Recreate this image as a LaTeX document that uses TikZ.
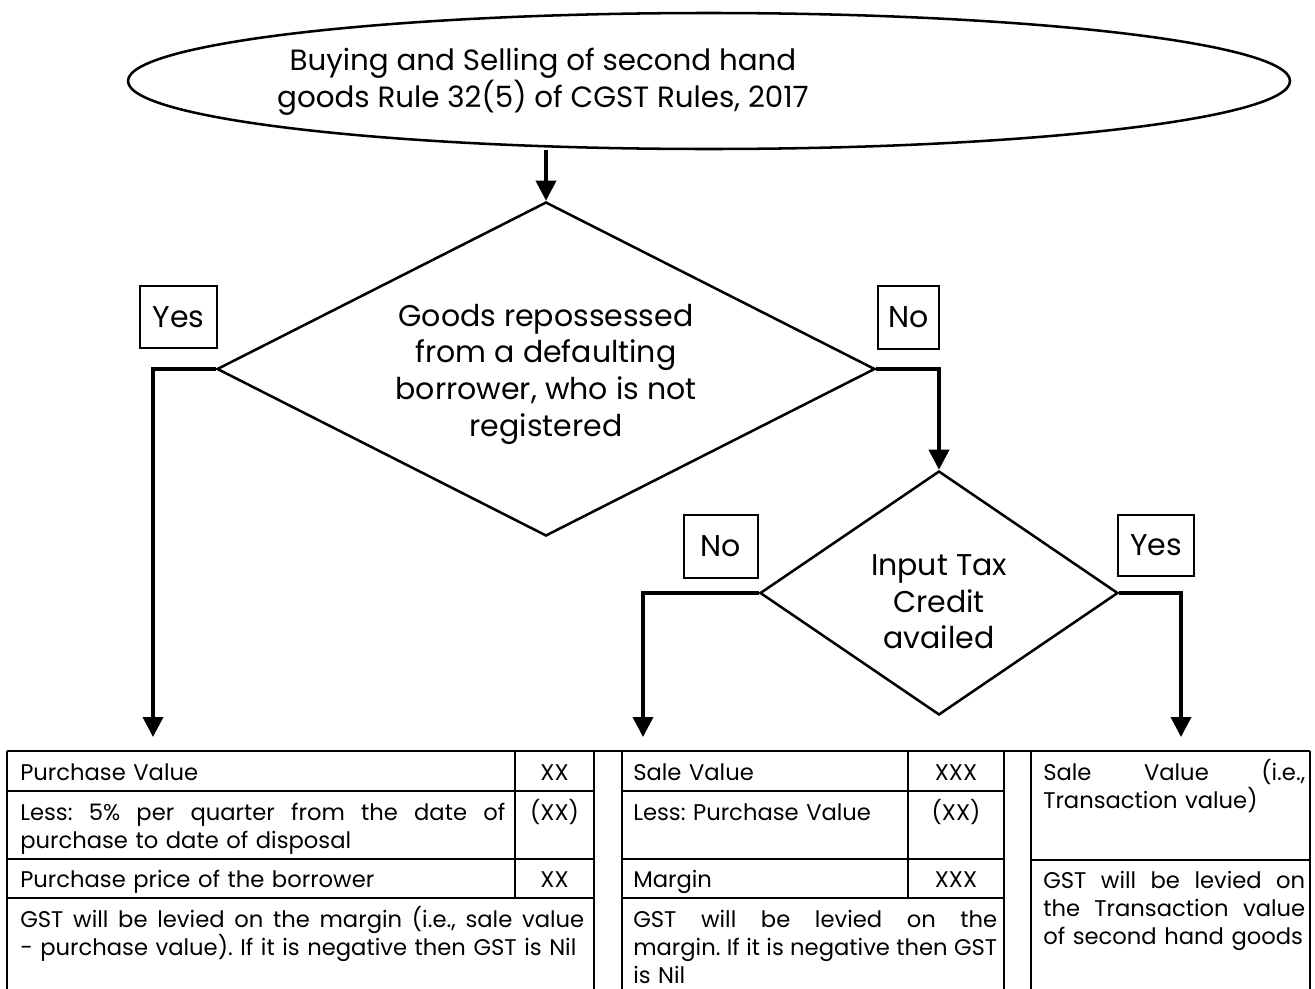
\documentclass[tikz,border=0pt]{standalone}
\usepackage{fontspec}
\setmainfont{Poppins}
\usetikzlibrary{arrows.meta,shapes.geometric,positioning}
\tikzset{
  flowline/.style={-{Triangle[length=15pt,width=15pt]}, line width=2.7pt},
  shapeline/.style={draw, line width=1.9pt},
  rulebox/.style={shapeline, ellipse, inner sep=0pt},
  asktext/.style={font=\fontsize{22.5}{27.5}\selectfont},
  askbox/.style={shapeline, diamond, inner sep=0pt, aspect=1.5},
  tagbox/.style={draw, line width=1.9pt, inner sep=0pt, asktext},
  gridline/.style={line width=1.9pt},
  celltext/.style={anchor=base west, inner sep=0pt, align=left, font=\fontsize{17}{21}\selectfont\frenchspacing},
  numtext/.style={anchor=base, inner sep=0pt, font=\fontsize{17}{21}\selectfont}
}
\newcommand{\spreadline}[1]{\makebox[\hsize][s]{\spaceskip=0pt\xspaceskip=0pt #1}}

\begin{document}
\begin{tikzpicture}[x=0.75pt,y=-0.75pt]
  \useasboundingbox (0,0) rectangle (1315,989);

  % title and questions
  \node[rulebox, minimum width=871.5pt, minimum height=102pt] (rule) at (709,81) {};
  \node[font=\fontsize{22}{27.75}\selectfont, align=center] (ruletext) at (543,82)
    {Buying and Selling of second hand\\goods Rule 32(5) of CGST Rules, 2017};
  \node[askbox, minimum width=493.5pt, minimum height=250.5pt] (repo) at (546,369) {};
  \node[asktext, align=center] (repotext) at (546,374)
    {Goods repossessed\\from a defaulting\\borrower, who is not\\registered};
  \node[askbox, minimum width=268.5pt, minimum height=183pt] (itc) at (939,593) {};
  \node[asktext, align=center] (itctext) at (939,602) {Input Tax\\Credit\\availed};

  % yes / no tags
  \node[tagbox, minimum width=57.75pt, minimum height=46.5pt] (repoyes) at (178.5,317) {Yes};
  \node[tagbox, minimum width=45.75pt, minimum height=47.25pt] (repono) at (908.5,317.5) {No};
  \node[tagbox, minimum width=55.5pt, minimum height=47.25pt] (itcno) at (721,546.5) {No};
  \node[tagbox, minimum width=57pt, minimum height=45.75pt] (itcyes) at (1156,545.5) {Yes};

  % connectors
  \coordinate (endA) at (153,737);
  \coordinate (endB) at (643,737);
  \coordinate (endC) at (1181,737);
  \draw[flowline] (repo.north |- rule.south) -- (repo.north);
  \draw[flowline] (repo.west) -| (endA);
  \draw[flowline] (repo.east) -| (itc.north);
  \draw[flowline] (itc.west) -| (endB);
  \draw[flowline] (itc.east) -| (endC);

  % table grid
  \draw[gridline] (7,751) -- (1310,751);
  \foreach \x in {7,594,622,1004,1031,1310}
    \draw[gridline] (\x,751) -- (\x,995);
  \foreach \y in {791,859,898} {
    \draw[gridline] (7,\y) -- (594,\y);
    \draw[gridline] (622,\y) -- (1004,\y);
  }
  \draw[gridline] (515,751) -- (515,898);
  \draw[gridline] (908,751) -- (908,898);
  \draw[gridline] (1031,860) -- (1310,860);

  % left column
  \node[celltext, text width=363.75pt] (pval) at (20,780) {Purchase Value};
  \node[numtext] (pvalamt) at (554.5,780) {XX};
  \node[celltext, text width=363.75pt] (less) at (20,820)
    {\spreadline{Less: 5\% per quarter from the date of}\\purchase to date of disposal};
  \node[numtext] (lessamt) at (554.5,820) {(XX)};
  \node[celltext, text width=363.75pt] (bprice) at (20,887) {Purchase price of the borrower};
  \node[numtext] (bpriceamt) at (554.5,887) {XX};
  \node[celltext, text width=423pt] (leftnote) at (20,927)
    {\spreadline{GST will be levied on the margin (i.e., sale value}\\- purchase value). If it is negative then GST is Nil};

  % middle column
  \node[celltext, text width=198.75pt] (sval) at (633,780) {Sale Value};
  \node[numtext] (svalamt) at (956,780) {XXX};
  \node[celltext, text width=198.75pt] (lesspv) at (633,820) {Less: Purchase Value};
  \node[numtext] (lesspvamt) at (956,820) {(XX)};
  \node[celltext, text width=198.75pt] (margin) at (633,887) {Margin};
  \node[numtext] (marginamt) at (956,887) {XXX};
  \node[celltext, text width=273pt] (midnote) at (633,927)
    {\spreadline{GST will be levied on the}\\\spreadline{margin. If it is negative then GST}\\is Nil};

  % right column
  \node[celltext, text width=196.5pt] (tval) at (1043,780)
    {\spreadline{Sale Value (i.e.,}\\Transaction value)};
  \node[celltext, text width=196.5pt] (rightnote) at (1043,888)
    {\spreadline{GST will be levied on}\\\spreadline{the Transaction value}\\of second hand goods};
\end{tikzpicture}
\end{document}
